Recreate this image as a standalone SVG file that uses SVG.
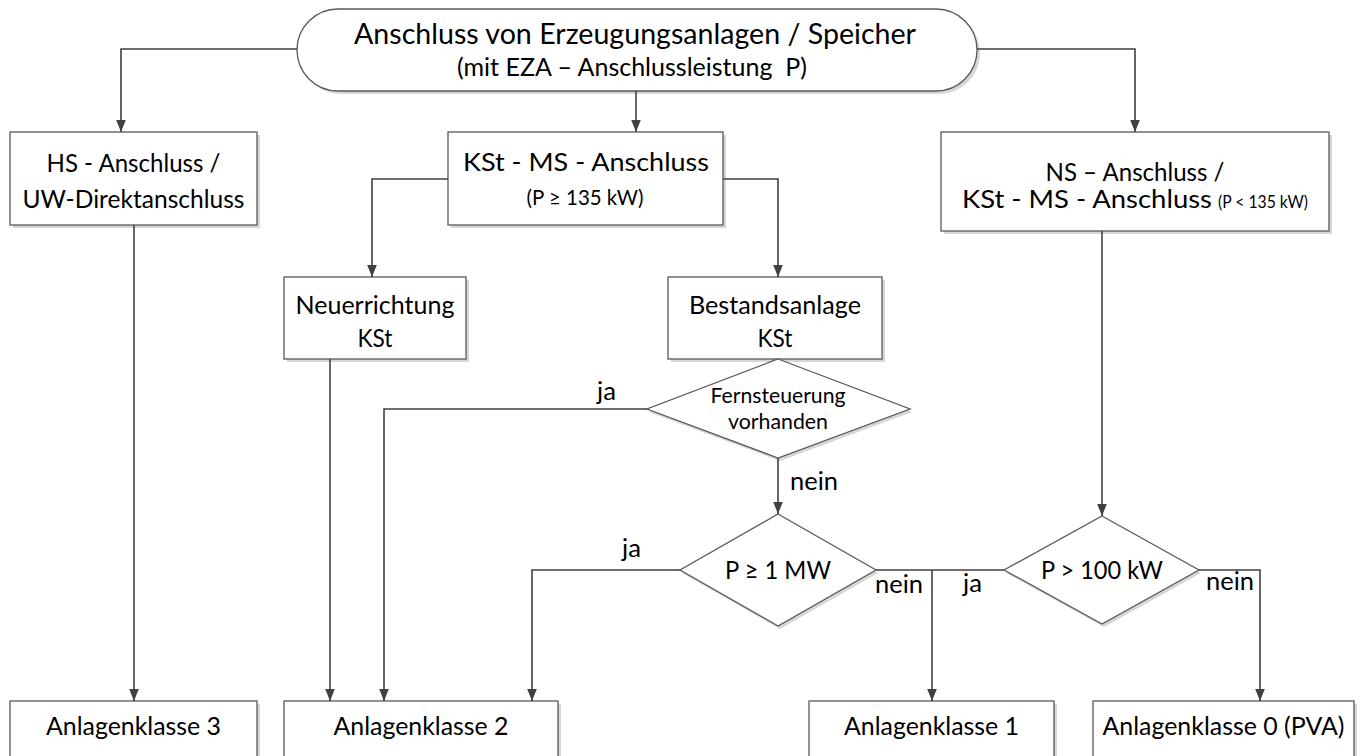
<svg xmlns="http://www.w3.org/2000/svg" width="1362" height="756" viewBox="0 0 1362 756">
<defs>
<marker id="arr" markerUnits="userSpaceOnUse" markerWidth="12" markerHeight="12" viewBox="0 0 12 12" refX="12" refY="6" orient="auto">
<path d="M0,1.2 L12,6 L0,10.8 z" fill="#404040"/>
</marker>
<style>
.box{fill:#fff;stroke:#595959;stroke-width:1.3}
.sh{fill:#d6d6d6;stroke:none}
.ln{fill:none;stroke:#404040;stroke-width:1.6}
.t{font-family:Lato,"Liberation Sans",Arial,sans-serif;fill:#000;text-anchor:middle}
.l{font-family:Lato,"Liberation Sans",Arial,sans-serif;fill:#000}
</style>
</defs>
<rect width="1362" height="756" fill="#fff"/>

<g id="start">
<rect class="sh" x="300" y="12" width="680" height="82" rx="41"/>
<rect class="box" x="297" y="9" width="680" height="82" rx="41"/>
<text class="t" x="635" y="44" font-size="29" textLength="562" lengthAdjust="spacingAndGlyphs">Anschluss von Erzeugungsanlagen / Speicher</text>
<text class="t" x="632" y="76" font-size="25" textLength="350" lengthAdjust="spacingAndGlyphs" xml:space="preserve">(mit EZA – Anschlussleistung  P)</text>
</g>

<g id="hs">
<rect class="sh" x="13" y="135" width="247" height="93"/>
<rect class="box" x="10" y="132" width="247" height="93"/>
<text class="t" x="133.5" y="172" font-size="25" textLength="174" lengthAdjust="spacingAndGlyphs">HS - Anschluss /</text>
<text class="t" x="133.5" y="208" font-size="25" textLength="222" lengthAdjust="spacingAndGlyphs">UW-Direktanschluss</text>
</g>

<g id="kst">
<rect class="sh" x="451" y="135" width="275" height="93"/>
<rect class="box" x="448" y="132" width="275" height="93"/>
<text class="t" x="586" y="171" font-size="25" textLength="246" lengthAdjust="spacingAndGlyphs">KSt - MS - Anschluss</text>
<text class="t" x="585" y="205" font-size="21" textLength="117" lengthAdjust="spacingAndGlyphs">(P ≥ 135 kW)</text>
</g>

<g id="ns">
<rect class="sh" x="944" y="135" width="388" height="99"/>
<rect class="box" x="941" y="132" width="388" height="99"/>
<text class="t" x="1135" y="181" font-size="25" textLength="179" lengthAdjust="spacingAndGlyphs">NS – Anschluss /</text>
<text class="l" x="962" y="208" font-size="25" textLength="250" lengthAdjust="spacingAndGlyphs">KSt - MS - Anschluss</text>
<text class="l" x="1218" y="208" font-size="17" textLength="90" lengthAdjust="spacingAndGlyphs">(P &lt; 135 kW)</text>
</g>

<g id="neu">
<rect class="sh" x="287" y="280" width="182" height="82"/>
<rect class="box" x="284" y="277" width="182" height="82"/>
<text class="t" x="375" y="314" font-size="25" textLength="159" lengthAdjust="spacingAndGlyphs">Neuerrichtung</text>
<text class="t" x="375" y="347" font-size="25" textLength="35" lengthAdjust="spacingAndGlyphs">KSt</text>
</g>

<g id="bestand">
<rect class="sh" x="671" y="280" width="214" height="82"/>
<rect class="box" x="668" y="277" width="214" height="82"/>
<text class="t" x="775" y="314" font-size="25" textLength="172" lengthAdjust="spacingAndGlyphs">Bestandsanlage</text>
<text class="t" x="775" y="347" font-size="25" textLength="35" lengthAdjust="spacingAndGlyphs">KSt</text>
</g>

<g id="fern">
<polygon class="sh" points="780,362 912,412 780,461 649,412"/>
<polygon class="box" points="778,359 910,409 778,458 647,409"/>
<text class="t" x="778" y="403" font-size="21" textLength="135" lengthAdjust="spacingAndGlyphs">Fernsteuerung</text>
<text class="t" x="778" y="429" font-size="21" textLength="100" lengthAdjust="spacingAndGlyphs">vorhanden</text>
</g>

<g id="p1mw">
<polygon class="sh" points="780,517 878,573 780,629 682,573"/>
<polygon class="box" points="778,514 876,570 778,626 680,570"/>
<text class="t" x="778" y="579" font-size="25" textLength="106" lengthAdjust="spacingAndGlyphs">P ≥ 1 MW</text>
</g>

<g id="p100">
<polygon class="sh" points="1104,519 1201,573 1104,627 1006,573"/>
<polygon class="box" points="1102,516 1199,570 1102,624 1004,570"/>
<text class="t" x="1102" y="579" font-size="25" textLength="122" lengthAdjust="spacingAndGlyphs">P &gt; 100 kW</text>
</g>

<g id="ak3">
<rect class="sh" x="13" y="704" width="247" height="80"/>
<rect class="box" x="10" y="701" width="247" height="80"/>
<text class="t" x="133.5" y="735" font-size="25" textLength="175" lengthAdjust="spacingAndGlyphs">Anlagenklasse 3</text>
</g>
<g id="ak2">
<rect class="sh" x="287" y="704" width="274" height="80"/>
<rect class="box" x="284" y="701" width="274" height="80"/>
<text class="t" x="421" y="735" font-size="25" textLength="175" lengthAdjust="spacingAndGlyphs">Anlagenklasse 2</text>
</g>
<g id="ak1">
<rect class="sh" x="812" y="704" width="245" height="80"/>
<rect class="box" x="809" y="701" width="245" height="80"/>
<text class="t" x="931.5" y="735" font-size="25" textLength="175" lengthAdjust="spacingAndGlyphs">Anlagenklasse 1</text>
</g>
<g id="ak0">
<rect class="sh" x="1096" y="704" width="261" height="80"/>
<rect class="box" x="1093" y="701" width="261" height="80"/>
<text class="t" x="1223.5" y="735" font-size="25" textLength="242" lengthAdjust="spacingAndGlyphs">Anlagenklasse 0 (PVA)</text>
</g>

<g id="connectors">
<path class="ln" d="M297,49 H121 V132" marker-end="url(#arr)"/>
<path class="ln" d="M636,91 V132" marker-end="url(#arr)"/>
<path class="ln" d="M977,49 H1135 V132" marker-end="url(#arr)"/>
<path class="ln" d="M448,179 H372 V277" marker-end="url(#arr)"/>
<path class="ln" d="M723,179 H778 V277" marker-end="url(#arr)"/>
<path class="ln" d="M134,225 V701" marker-end="url(#arr)"/>
<path class="ln" d="M330,359 V701" marker-end="url(#arr)"/>
<path class="ln" d="M647,409 H384 V701" marker-end="url(#arr)"/>
<path class="ln" d="M778,458 V514" marker-end="url(#arr)"/>
<path class="ln" d="M680,570 H532 V701" marker-end="url(#arr)"/>
<path class="ln" d="M876,570 H1004"/>
<path class="ln" d="M932,570 V701" marker-end="url(#arr)"/>
<path class="ln" d="M1102,231 V516" marker-end="url(#arr)"/>
<path class="ln" d="M1199,570 H1260 V701" marker-end="url(#arr)"/>
<text class="l" x="597" y="400" font-size="25" textLength="19" lengthAdjust="spacingAndGlyphs">ja</text>
<text class="l" x="790" y="490" font-size="25" textLength="48" lengthAdjust="spacingAndGlyphs">nein</text>
<text class="l" x="622" y="557" font-size="25" textLength="19" lengthAdjust="spacingAndGlyphs">ja</text>
<text class="l" x="875" y="593" font-size="25" textLength="48" lengthAdjust="spacingAndGlyphs">nein</text>
<text class="l" x="963" y="592" font-size="25" textLength="19" lengthAdjust="spacingAndGlyphs">ja</text>
<text class="l" x="1206" y="590" font-size="25" textLength="48" lengthAdjust="spacingAndGlyphs">nein</text>
</g>
</svg>
